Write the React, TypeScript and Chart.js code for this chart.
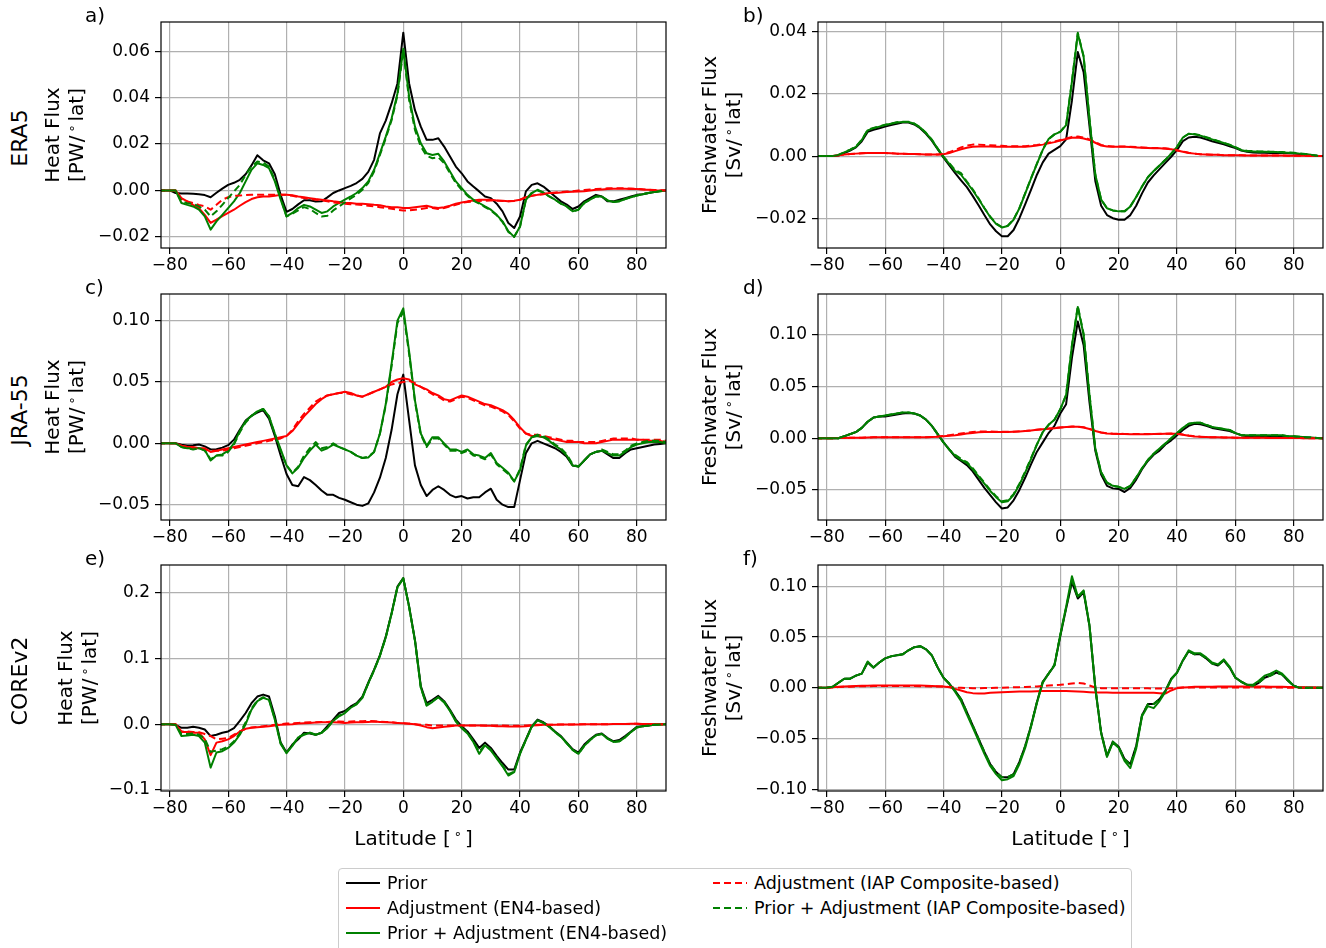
import React, { useEffect, useRef } from "react";
import { Chart, registerables } from "chart.js";
Chart.register(...registerables);

// ---------------- DATA ----------------
const latitude = [
  -84, -82, -80, -78, -76, -74, -72, -70, -68, -66,
  -64, -62, -60, -58, -56, -54, -52, -50, -48, -46,
  -44, -42, -40, -38, -36, -34, -32, -30, -28, -26,
  -24, -22, -20, -18, -16, -14, -12, -10, -8, -6,
  -4, -2, 0, 2, 4, 6, 8, 10, 12, 14,
  16, 18, 20, 22, 24, 26, 28, 30, 32, 34,
  36, 38, 40, 42, 44, 46, 48, 50, 52, 54,
  56, 58, 60, 62, 64, 66, 68, 70, 72, 74,
  76, 78, 80, 82, 84, 86, 88, 90,
];
const latTicks = [-80, -60, -40, -20, 0, 20, 40, 60, 80];

// a) ERA5 heat flux
const eraHeatPrior = [
  0, 0, 0, -0.0011, -0.0013, -0.0013, -0.0014, -0.0016, -0.002, -0.0029,
  -0.001, 0.0008, 0.0024, 0.0033, 0.0046, 0.007, 0.0108, 0.0152, 0.013, 0.0117,
  0.007, -0.002, -0.0092, -0.008, -0.006, -0.0042, -0.0042, -0.0048, -0.0047, -0.003,
  -0.0011, 0, 0.001, 0.002, 0.0032, 0.005, 0.008, 0.0132, 0.0246, 0.0301,
  0.0375, 0.0461, 0.068, 0.0461, 0.0346, 0.0275, 0.0218, 0.0218, 0.0225, 0.0189,
  0.0146, 0.0103, 0.0074, 0.0039, 0.0017, -0.0004, -0.0026, -0.0033, -0.0057, -0.009,
  -0.014, -0.0162, -0.0112, -0.0004, 0.0024, 0.0031, 0.0017, -0.0004, -0.0026, -0.0047,
  -0.0061, -0.008, -0.0069, -0.0047, -0.0033, -0.0019, -0.0026, -0.0047, -0.0047, -0.004,
  -0.0033, -0.0026, -0.0019, -0.0016, -0.0011, -0.0007, -0.0001, 0,
];
const eraHeatAdjEN4 = [
  0, 0, 0, 0, -0.0033, -0.0047, -0.0062, -0.0076, -0.0105, -0.014,
  -0.0126, -0.0111, -0.0097, -0.0083, -0.0066, -0.005, -0.0037, -0.0029, -0.0026, -0.0026,
  -0.0023, -0.0019, -0.0019, -0.0021, -0.0026, -0.0029, -0.0033, -0.0037, -0.004, -0.0043,
  -0.0047, -0.005, -0.0054, -0.0054, -0.0057, -0.0057, -0.0059, -0.0062, -0.0064, -0.0069,
  -0.0072, -0.0072, -0.0076, -0.0076, -0.0072, -0.0069, -0.0066, -0.0072, -0.0076, -0.0072,
  -0.0066, -0.0057, -0.0052, -0.0047, -0.0043, -0.004, -0.004, -0.004, -0.0043, -0.0044,
  -0.0047, -0.0044, -0.004, -0.0029, -0.0023, -0.0019, -0.0016, -0.0011, -0.0011, -0.0009,
  -0.0007, -0.0006, -0.0004, -0.0003, 0, 0.0003, 0.0004, 0.0006, 0.0007, 0.0007,
  0.0007, 0.0006, 0.0006, 0.0004, 0.0003, 0.0001, 0, 0,
];
const eraHeatSumEN4 = [
  0, 0, 0, 0, -0.0054, -0.0062, -0.0069, -0.0083, -0.0112, -0.0169,
  -0.0133, -0.0105, -0.0076, -0.0047, -0.0011, 0.0039, 0.0089, 0.0117, 0.011, 0.0096,
  0.0039, -0.004, -0.0112, -0.0097, -0.0076, -0.0062, -0.0069, -0.0083, -0.0097, -0.009,
  -0.0069, -0.0054, -0.004, -0.0026, -0.0011, 0.001, 0.0039, 0.0089, 0.016, 0.0232,
  0.031, 0.0418, 0.0611, 0.0404, 0.0275, 0.0203, 0.016, 0.0153, 0.0158, 0.0125,
  0.0082, 0.0039, 0.001, -0.0019, -0.004, -0.0054, -0.0069, -0.0083, -0.0105, -0.0133,
  -0.0176, -0.02, -0.0155, -0.004, -0.0011, 0.0003, -0.0009, -0.0026, -0.004, -0.0057,
  -0.0069, -0.009, -0.0083, -0.0054, -0.004, -0.0026, -0.0026, -0.0043, -0.005, -0.0047,
  -0.0037, -0.0029, -0.0022, -0.0016, -0.0011, -0.0007, -0.0003, 0,
];
const eraHeatAdjIAP = [
  0, 0, 0, 0, -0.0037, -0.0047, -0.0054, -0.0062, -0.0069, -0.0083,
  -0.0062, -0.004, -0.0029, -0.0023, -0.0022, -0.002, -0.0019, -0.0019, -0.0019, -0.0019,
  -0.0019, -0.0019, -0.0019, -0.0023, -0.0029, -0.0033, -0.0037, -0.004, -0.0043, -0.0047,
  -0.0052, -0.0054, -0.0057, -0.0059, -0.0061, -0.0063, -0.0066, -0.0069, -0.0072, -0.0076,
  -0.0079, -0.0083, -0.0086, -0.0086, -0.0083, -0.008, -0.0076, -0.0076, -0.008, -0.0076,
  -0.0069, -0.0062, -0.0054, -0.005, -0.0047, -0.0045, -0.0044, -0.0043, -0.0043, -0.0045,
  -0.0047, -0.0045, -0.004, -0.003, -0.0023, -0.0019, -0.0015, -0.0011, -0.0009, -0.0007,
  -0.0005, -0.0003, 0, 0.0002, 0.0004, 0.0006, 0.0007, 0.0009, 0.0009, 0.0009,
  0.0009, 0.0008, 0.0007, 0.0005, 0.0003, 0.0002, 0.0001, 0,
];
const eraHeatSumIAP = [
  0, 0, 0, 0, -0.0047, -0.0055, -0.0057, -0.0069, -0.0083, -0.0112,
  -0.009, -0.0062, -0.0033, -0.0004, 0.0024, 0.0067, 0.0103, 0.0125, 0.012, 0.0103,
  0.0046, -0.0033, -0.0112, -0.01, -0.0086, -0.0072, -0.008, -0.0097, -0.0112, -0.0109,
  -0.0086, -0.0069, -0.0052, -0.0034, -0.0019, 0.0003, 0.0032, 0.0082, 0.0153, 0.0225,
  0.0303, 0.041, 0.0604, 0.039, 0.0261, 0.0189, 0.0149, 0.0139, 0.0143, 0.0117,
  0.0074, 0.0032, 0.0003, -0.0023, -0.0044, -0.0057, -0.0072, -0.0086, -0.0107, -0.0136,
  -0.0179, -0.02, -0.0155, -0.004, -0.0011, 0, -0.0009, -0.0026, -0.004, -0.0057,
  -0.0069, -0.009, -0.0083, -0.0054, -0.004, -0.0026, -0.0026, -0.0043, -0.005, -0.0047,
  -0.0037, -0.0029, -0.0022, -0.0016, -0.0011, -0.0007, -0.0003, 0,
];

// b) ERA5 freshwater flux
const eraFreshPrior = [
  0, 0, 0, 0, 0.0002, 0.001, 0.0018, 0.0028, 0.0048, 0.0078,
  0.0085, 0.009, 0.0095, 0.01, 0.0104, 0.0108, 0.0108, 0.0102, 0.009, 0.0072,
  0.005, 0.0022, -0.0005, -0.003, -0.0055, -0.0078, -0.01, -0.0128, -0.0158, -0.019,
  -0.022, -0.0242, -0.0258, -0.0258, -0.0238, -0.02, -0.0155, -0.0108, -0.006, -0.002,
  0.0008, 0.002, 0.0032, 0.0054, 0.018, 0.0335, 0.027, 0.0097, -0.008, -0.016,
  -0.019, -0.02, -0.0205, -0.0205, -0.019, -0.016, -0.012, -0.0085, -0.0062, -0.0042,
  -0.0022, -0.0002, 0.002, 0.0048, 0.006, 0.0062, 0.006, 0.0054, 0.0048, 0.0043,
  0.0038, 0.0032, 0.0026, 0.0018, 0.0014, 0.0012, 0.0011, 0.0011, 0.001, 0.001,
  0.001, 0.0009, 0.0008, 0.0007, 0.0005, 0.0003, 0.0001, 0,
];
const eraFreshAdjEN4 = [
  0, 0, 0, 0, 0.0003, 0.0005, 0.0007, 0.0008, 0.0009, 0.001,
  0.001, 0.001, 0.001, 0.0009, 0.0008, 0.0008, 0.0007, 0.0007, 0.0006, 0.0005,
  0.0005, 0.0005, 0.0006, 0.001, 0.0016, 0.0022, 0.0027, 0.003, 0.0031, 0.0031,
  0.0031, 0.003, 0.003, 0.003, 0.003, 0.003, 0.003, 0.0032, 0.0034, 0.0037,
  0.0041, 0.0045, 0.005, 0.0055, 0.0059, 0.006, 0.0057, 0.0052, 0.0043, 0.0034,
  0.0031, 0.003, 0.003, 0.003, 0.0029, 0.0028, 0.0027, 0.0026, 0.0025, 0.0025,
  0.0024, 0.0022, 0.0018, 0.0014, 0.001, 0.0008, 0.0006, 0.0005, 0.0004, 0.0004,
  0.0003, 0.0003, 0.0003, 0.0003, 0.0002, 0.0002, 0.0002, 0.0002, 0.0002, 0.0002,
  0.0002, 0.0001, 0.0001, 0.0001, 0.0001, 0, 0, 0,
];
const eraFreshSumEN4 = [
  0, 0, 0, 0, 0.0004, 0.0012, 0.002, 0.003, 0.0052, 0.0083,
  0.009, 0.0095, 0.01, 0.0104, 0.0108, 0.011, 0.011, 0.0104, 0.0092, 0.0074,
  0.0052, 0.0024, -0.0003, -0.0025, -0.0048, -0.006, -0.0085, -0.011, -0.0138, -0.0168,
  -0.0196, -0.0218, -0.023, -0.0225, -0.0205, -0.0168, -0.012, -0.0072, -0.0025, 0.002,
  0.0055, 0.007, 0.0078, 0.01, 0.024, 0.0395, 0.032, 0.012, -0.006, -0.014,
  -0.0168, -0.0175, -0.0178, -0.0178, -0.0162, -0.0132, -0.0098, -0.0068, -0.0048, -0.003,
  -0.0012, 0.0008, 0.003, 0.006, 0.0072, 0.007, 0.0066, 0.006, 0.0054, 0.0048,
  0.0042, 0.0036, 0.0028, 0.0019, 0.0016, 0.0015, 0.0014, 0.0014, 0.0013, 0.0013,
  0.0012, 0.0011, 0.001, 0.0008, 0.0006, 0.0004, 0.0001, 0,
];
const eraFreshAdjIAP = [
  0, 0, 0, 0, 0.0003, 0.0005, 0.0007, 0.0008, 0.0009, 0.001,
  0.001, 0.001, 0.001, 0.0009, 0.0008, 0.0008, 0.0007, 0.0007, 0.0006, 0.0005,
  0.0005, 0.0005, 0.0007, 0.0013, 0.002, 0.0028, 0.0034, 0.0037, 0.0037, 0.0036,
  0.0035, 0.0034, 0.0033, 0.0032, 0.0032, 0.0032, 0.0032, 0.0034, 0.0036, 0.0039,
  0.0043, 0.0047, 0.0052, 0.0057, 0.0062, 0.0063, 0.006, 0.0054, 0.0045, 0.0036,
  0.0033, 0.0031, 0.0031, 0.0031, 0.003, 0.0029, 0.0028, 0.0027, 0.0026, 0.0026,
  0.0025, 0.0023, 0.0019, 0.0015, 0.0011, 0.0008, 0.0006, 0.0005, 0.0004, 0.0004,
  0.0003, 0.0003, 0.0003, 0.0003, 0.0002, 0.0002, 0.0002, 0.0002, 0.0002, 0.0002,
  0.0002, 0.0001, 0.0001, 0.0001, 0.0001, 0, 0, 0,
];
const eraFreshSumIAP = [
  0, 0, 0, 0, 0.0004, 0.0012, 0.0021, 0.0031, 0.0053, 0.0084,
  0.0091, 0.0096, 0.0101, 0.0105, 0.0109, 0.0111, 0.0111, 0.0105, 0.0093, 0.0075,
  0.0053, 0.0024, -0.0002, -0.0023, -0.0045, -0.0055, -0.0082, -0.0107, -0.0136, -0.0167,
  -0.0195, -0.0217, -0.0229, -0.0224, -0.0204, -0.0167, -0.0119, -0.0071, -0.0024, 0.0021,
  0.0055, 0.007, 0.0079, 0.01, 0.0242, 0.0397, 0.0322, 0.0121, -0.006, -0.014,
  -0.0168, -0.0175, -0.0178, -0.0178, -0.0162, -0.0132, -0.0098, -0.0068, -0.0048, -0.003,
  -0.0012, 0.0008, 0.003, 0.006, 0.0072, 0.0071, 0.0067, 0.0061, 0.0055, 0.0049,
  0.0043, 0.0037, 0.0029, 0.002, 0.0017, 0.0016, 0.0015, 0.0015, 0.0014, 0.0014,
  0.0013, 0.0012, 0.0011, 0.0009, 0.0007, 0.0004, 0.0001, 0,
];

// c) JRA-55 heat flux
const jraHeatPrior = [
  0, 0, 0, 0, -0.0012, -0.0018, -0.0015, -0.001, -0.0025, -0.005,
  -0.0048, -0.0035, -0.0015, 0.003, 0.011, 0.0185, 0.0225, 0.025, 0.027, 0.02,
  0.006, -0.01, -0.025, -0.034, -0.035, -0.0275, -0.03, -0.034, -0.0385, -0.042,
  -0.042, -0.0445, -0.046, -0.048, -0.05, -0.051, -0.049, -0.04, -0.028, -0.012,
  0.011, 0.04, 0.056, 0.019, -0.018, -0.034, -0.043, -0.038, -0.035, -0.038,
  -0.042, -0.044, -0.043, -0.045, -0.044, -0.044, -0.04, -0.037, -0.046, -0.05,
  -0.052, -0.052, -0.03, -0.008, 0, 0.002, 0, -0.002, -0.004, -0.007,
  -0.011, -0.018, -0.019, -0.014, -0.009, -0.007, -0.006, -0.009, -0.012, -0.012,
  -0.008, -0.005, -0.004, -0.003, -0.002, -0.001, -0.0005, 0,
];
const jraHeatAdjEN4 = [
  0, 0, 0, 0, -0.002, -0.003, -0.003, -0.004, -0.004, -0.007,
  -0.006, -0.005, -0.004, -0.003, -0.002, -0.001, 0, 0.001, 0.002, 0.003,
  0.004, 0.005, 0.006, 0.01, 0.016, 0.022, 0.027, 0.032, 0.036, 0.039,
  0.04, 0.041, 0.042, 0.041, 0.039, 0.038, 0.04, 0.042, 0.044, 0.046,
  0.05, 0.052, 0.053, 0.052, 0.048, 0.046, 0.044, 0.041, 0.039, 0.036,
  0.035, 0.037, 0.039, 0.038, 0.036, 0.034, 0.032, 0.031, 0.029, 0.027,
  0.024, 0.019, 0.013, 0.008, 0.006, 0.006, 0.005, 0.004, 0.003, 0.002,
  0.001, 0.001, 0.001, 0, 0, 0, 0.001, 0.002, 0.003, 0.003,
  0.003, 0.003, 0.003, 0.003, 0.002, 0.002, 0.002, 0.001,
];
const jraHeatSumEN4 = [
  0, 0, 0, 0, -0.003, -0.004, -0.004, -0.004, -0.0055, -0.014,
  -0.01, -0.009, -0.006, 0, 0.01, 0.018, 0.0225, 0.026, 0.028, 0.022,
  0.008, -0.005, -0.018, -0.0245, -0.02, -0.012, -0.006, -0.001, -0.006, -0.004,
  -0.001, -0.003, -0.005, -0.007, -0.01, -0.012, -0.0115, -0.007, 0.008, 0.032,
  0.065, 0.1, 0.11, 0.075, 0.035, 0.008, -0.002, 0.005, 0.005, 0,
  -0.005, -0.005, -0.007, -0.005, -0.009, -0.01, -0.012, -0.008, -0.016, -0.02,
  -0.024, -0.031, -0.022, -0.002, 0.005, 0.006, 0.005, 0.002, -0.002, -0.005,
  -0.01, -0.018, -0.019, -0.014, -0.009, -0.007, -0.006, -0.008, -0.01, -0.01,
  -0.007, -0.003, -0.001, 0, 0.001, 0.001, 0.001, 0,
];
const jraHeatAdjIAP = [
  0, 0, 0, 0, -0.002, -0.003, -0.004, -0.004, -0.005, -0.006,
  -0.006, -0.006, -0.005, -0.004, -0.003, -0.002, -0.001, 0, 0.001, 0.002,
  0.003, 0.004, 0.006, 0.011, 0.018, 0.024, 0.029, 0.034, 0.037, 0.039,
  0.04, 0.041, 0.041, 0.04, 0.039, 0.038, 0.04, 0.042, 0.044, 0.046,
  0.048, 0.049, 0.05, 0.051, 0.049, 0.046, 0.043, 0.04, 0.038, 0.035,
  0.034, 0.036, 0.038, 0.037, 0.035, 0.033, 0.031, 0.03, 0.028, 0.026,
  0.023, 0.018, 0.012, 0.008, 0.007, 0.007, 0.006, 0.005, 0.004, 0.003,
  0.002, 0.002, 0.001, 0.001, 0.001, 0.001, 0.002, 0.003, 0.004, 0.004,
  0.004, 0.004, 0.003, 0.003, 0.003, 0.003, 0.003, 0.002,
];
const jraHeatSumIAP = [
  0, 0, 0, 0, -0.003, -0.004, -0.005, -0.004, -0.006, -0.013,
  -0.01, -0.01, -0.007, -0.001, 0.009, 0.017, 0.022, 0.026, 0.028, 0.022,
  0.007, -0.006, -0.018, -0.024, -0.019, -0.01, -0.004, 0.001, -0.004, -0.003,
  0, -0.003, -0.005, -0.007, -0.01, -0.012, -0.011, -0.007, 0.008, 0.031,
  0.063, 0.098, 0.107, 0.073, 0.034, 0.007, -0.003, 0.004, 0.004, -0.001,
  -0.006, -0.006, -0.008, -0.006, -0.01, -0.011, -0.013, -0.009, -0.017, -0.021,
  -0.025, -0.031, -0.021, -0.001, 0.005, 0.007, 0.006, 0.003, -0.001, -0.004,
  -0.009, -0.017, -0.019, -0.014, -0.009, -0.007, -0.005, -0.007, -0.009, -0.009,
  -0.006, -0.002, 0, 0.001, 0.002, 0.002, 0.002, 0.001,
];

// d) JRA-55 freshwater flux
const jraFreshPrior = [
  0, 0, 0, 0, 0, 0.002, 0.004, 0.006, 0.01, 0.016,
  0.02, 0.021, 0.021, 0.022, 0.023, 0.024, 0.0245, 0.024, 0.022, 0.018,
  0.012, 0.004, -0.004, -0.011, -0.018, -0.022, -0.026, -0.032, -0.04, -0.048,
  -0.055, -0.062, -0.068, -0.067, -0.06, -0.05, -0.038, -0.025, -0.013, -0.004,
  0.005, 0.012, 0.024, 0.033, 0.078, 0.113, 0.09, 0.035, -0.012, -0.035,
  -0.046, -0.0485, -0.049, -0.052, -0.048, -0.04, -0.03, -0.022, -0.016, -0.012,
  -0.006, -0.002, 0.003, 0.008, 0.012, 0.014, 0.0135, 0.012, 0.01, 0.009,
  0.008, 0.007, 0.005, 0.003, 0.002, 0.002, 0.002, 0.002, 0.002, 0.002,
  0.002, 0.0015, 0.0015, 0.001, 0.001, 0.0005, 0.0002, 0,
];
const jraFreshAdjEN4 = [
  0, 0, 0, 0, 0.0002, 0.0003, 0.0004, 0.0005, 0.0006, 0.0008,
  0.0009, 0.001, 0.001, 0.001, 0.001, 0.001, 0.001, 0.001, 0.001, 0.001,
  0.0012, 0.0015, 0.002, 0.0025, 0.003, 0.0037, 0.0045, 0.0052, 0.0058, 0.006,
  0.006, 0.006, 0.006, 0.006, 0.0062, 0.0065, 0.007, 0.0075, 0.0082, 0.0088,
  0.0093, 0.0098, 0.0103, 0.0108, 0.0112, 0.0112, 0.0105, 0.009, 0.007, 0.0055,
  0.0047, 0.0043, 0.0042, 0.0041, 0.004, 0.004, 0.004, 0.004, 0.0041, 0.0042,
  0.0043, 0.0044, 0.0043, 0.0035, 0.0025, 0.0018, 0.0014, 0.0012, 0.001, 0.0009,
  0.0008, 0.0007, 0.0006, 0.0005, 0.0005, 0.0004, 0.0004, 0.0004, 0.0003, 0.0003,
  0.0003, 0.0003, 0.0002, 0.0002, 0.0001, 0.0001, 0, 0,
];
const jraFreshSumEN4 = [
  0, 0, 0, 0, 0, 0.002, 0.004, 0.006, 0.01, 0.016,
  0.02, 0.021, 0.022, 0.023, 0.024, 0.025, 0.025, 0.024, 0.022, 0.018,
  0.012, 0.004, -0.004, -0.011, -0.017, -0.021, -0.024, -0.03, -0.037, -0.044,
  -0.051, -0.057, -0.062, -0.061, -0.055, -0.045, -0.033, -0.02, -0.006, 0.006,
  0.013, 0.018, 0.028, 0.042, 0.09, 0.127, 0.1, 0.042, -0.01, -0.033,
  -0.043, -0.046, -0.047, -0.049, -0.046, -0.038, -0.029, -0.021, -0.015, -0.01,
  -0.005, 0, 0.005, 0.01, 0.014, 0.015, 0.015, 0.013, 0.011, 0.01,
  0.009, 0.008, 0.005, 0.003, 0.003, 0.003, 0.003, 0.003, 0.003, 0.003,
  0.003, 0.002, 0.002, 0.0015, 0.001, 0.0008, 0.0003, 0,
];
const jraFreshAdjIAP = [
  0, 0, 0, 0, 0.0002, 0.0003, 0.0004, 0.0005, 0.0006, 0.0008,
  0.0009, 0.001, 0.001, 0.001, 0.001, 0.001, 0.001, 0.001, 0.001, 0.001,
  0.0013, 0.0017, 0.0023, 0.003, 0.0037, 0.0045, 0.0053, 0.006, 0.0065, 0.0066,
  0.0065, 0.0064, 0.0063, 0.0063, 0.0064, 0.0067, 0.0071, 0.0076, 0.0083, 0.0089,
  0.0094, 0.0099, 0.0104, 0.0109, 0.0113, 0.0113, 0.0106, 0.0091, 0.0071, 0.0056,
  0.0048, 0.0044, 0.0043, 0.0042, 0.0041, 0.0041, 0.0041, 0.0041, 0.0042, 0.0043,
  0.0044, 0.0045, 0.0044, 0.0036, 0.0026, 0.0019, 0.0015, 0.0012, 0.001, 0.0009,
  0.0008, 0.0007, 0.0006, 0.0005, 0.0005, 0.0004, 0.0004, 0.0004, 0.0003, 0.0003,
  0.0003, 0.0003, 0.0002, 0.0002, 0.0001, 0.0001, 0, 0,
];
const jraFreshSumIAP = [
  0, 0, 0, 0, 0, 0.002, 0.004, 0.006, 0.01, 0.016,
  0.02, 0.021, 0.022, 0.023, 0.024, 0.025, 0.025, 0.024, 0.022, 0.018,
  0.012, 0.004, -0.004, -0.011, -0.016, -0.02, -0.023, -0.029, -0.036, -0.043,
  -0.05, -0.056, -0.061, -0.06, -0.054, -0.044, -0.032, -0.019, -0.006, 0.006,
  0.013, 0.018, 0.028, 0.042, 0.09, 0.128, 0.101, 0.043, -0.01, -0.033,
  -0.043, -0.046, -0.047, -0.049, -0.046, -0.038, -0.029, -0.021, -0.015, -0.01,
  -0.005, 0, 0.005, 0.01, 0.014, 0.015, 0.015, 0.013, 0.011, 0.01,
  0.009, 0.008, 0.005, 0.003, 0.003, 0.003, 0.003, 0.003, 0.003, 0.003,
  0.003, 0.002, 0.002, 0.0015, 0.001, 0.0008, 0.0003, 0,
];

// e) COREv2 heat flux
const coreHeatPrior = [
  0, 0, 0, -0.001, -0.0055, -0.0055, -0.004, -0.0055, -0.008, -0.018,
  -0.016, -0.013, -0.011, -0.006, 0.005, 0.017, 0.032, 0.042, 0.045, 0.042,
  0.012, -0.028, -0.043, -0.031, -0.023, -0.013, -0.014, -0.016, -0.013, -0.003,
  0.007, 0.017, 0.02, 0.027, 0.032, 0.042, 0.063, 0.083, 0.105, 0.133,
  0.169, 0.209, 0.222, 0.179, 0.128, 0.058, 0.032, 0.037, 0.043, 0.035,
  0.022, 0.007, -0.003, -0.011, -0.023, -0.036, -0.028, -0.036, -0.048, -0.059,
  -0.069, -0.069, -0.043, -0.023, -0.003, 0.007, 0.003, -0.003, -0.011, -0.018,
  -0.028, -0.038, -0.043, -0.031, -0.023, -0.016, -0.014, -0.021, -0.026, -0.024,
  -0.018, -0.011, -0.004, -0.003, -0.002, -0.001, -0.0005, 0,
];
const coreHeatAdjEN4 = [
  0, 0, 0, 0, -0.012, -0.012, -0.013, -0.013, -0.023, -0.047,
  -0.028, -0.026, -0.023, -0.018, -0.011, -0.007, -0.0055, -0.0045, -0.004, -0.003,
  -0.002, -0.001, -0.0005, 0, 0.001, 0.0015, 0.002, 0.0025, 0.003, 0.003,
  0.003, 0.0025, 0.002, 0.0025, 0.003, 0.003, 0.0035, 0.004, 0.0035, 0.003,
  0.0025, 0.002, 0.0015, 0.0005, 0, -0.002, -0.0045, -0.006, -0.005, -0.004,
  -0.003, -0.002, -0.002, -0.002, -0.002, -0.002, -0.0025, -0.0025, -0.003, -0.003,
  -0.0035, -0.0035, -0.0035, -0.003, -0.002, -0.0015, -0.001, -0.001, -0.0008, -0.0006,
  -0.0005, -0.0004, -0.0003, -0.0002, 0, 0, 0, 0, 0.0002, 0.0002,
  0.0004, 0.0005, 0.0005, 0.0004, 0.0003, 0.0002, 0.0001, 0,
];
const coreHeatSumEN4 = [
  0, 0, 0, -0.001, -0.018, -0.017, -0.016, -0.018, -0.028, -0.066,
  -0.043, -0.041, -0.036, -0.028, -0.016, 0, 0.022, 0.035, 0.04, 0.037,
  0.007, -0.03, -0.044, -0.033, -0.02, -0.016, -0.013, -0.016, -0.013, -0.006,
  0.005, 0.012, 0.017, 0.025, 0.03, 0.04, 0.062, 0.082, 0.104, 0.132,
  0.168, 0.208, 0.222, 0.178, 0.127, 0.056, 0.028, 0.034, 0.041, 0.033,
  0.02, 0.004, -0.006, -0.014, -0.027, -0.045, -0.032, -0.04, -0.052, -0.064,
  -0.078, -0.073, -0.045, -0.024, -0.004, 0.006, 0.002, -0.004, -0.012, -0.019,
  -0.029, -0.039, -0.045, -0.033, -0.024, -0.017, -0.015, -0.022, -0.027, -0.026,
  -0.02, -0.012, -0.005, -0.003, -0.002, -0.001, -0.0005, 0,
];
const coreHeatAdjIAP = [
  0, 0, 0, 0, -0.011, -0.011, -0.012, -0.012, -0.015, -0.018,
  -0.023, -0.022, -0.021, -0.016, -0.011, -0.007, -0.005, -0.004, -0.003, -0.002,
  -0.001, 0, 0.001, 0.0015, 0.002, 0.0025, 0.003, 0.003, 0.0035, 0.0035,
  0.004, 0.004, 0.0035, 0.004, 0.0045, 0.0045, 0.0048, 0.0045, 0.004, 0.0035,
  0.003, 0.002, 0.0015, 0.001, 0, -0.001, -0.001, -0.002, -0.002, -0.002,
  -0.002, -0.002, -0.002, -0.002, -0.002, -0.002, -0.002, -0.002, -0.002, -0.002,
  -0.0025, -0.0025, -0.0025, -0.002, -0.0015, -0.001, -0.001, -0.0008, -0.0006, -0.0005,
  -0.0004, -0.0003, -0.0002, -0.0001, 0, 0, 0, 0.0001, 0.0002, 0.0003,
  0.0004, 0.0005, 0.0005, 0.0004, 0.0003, 0.0002, 0.0001, 0,
];
const coreHeatSumIAP = [
  0, 0, 0, -0.001, -0.015, -0.015, -0.014, -0.016, -0.022, -0.042,
  -0.04, -0.038, -0.034, -0.026, -0.014, 0.003, 0.024, 0.036, 0.041, 0.038,
  0.008, -0.029, -0.043, -0.032, -0.02, -0.015, -0.013, -0.016, -0.013, -0.005,
  0.006, 0.013, 0.018, 0.026, 0.031, 0.041, 0.062, 0.082, 0.104, 0.132,
  0.168, 0.208, 0.221, 0.178, 0.127, 0.056, 0.029, 0.035, 0.041, 0.034,
  0.021, 0.005, -0.005, -0.013, -0.026, -0.042, -0.031, -0.039, -0.051, -0.063,
  -0.076, -0.072, -0.044, -0.024, -0.004, 0.006, 0.002, -0.004, -0.012, -0.019,
  -0.029, -0.039, -0.045, -0.033, -0.024, -0.017, -0.015, -0.022, -0.027, -0.026,
  -0.02, -0.012, -0.005, -0.003, -0.002, -0.001, -0.0005, 0,
];

// f) COREv2 freshwater flux
const coreFreshPrior = [
  0, 0, 0, 0.001, 0.005, 0.009, 0.009, 0.012, 0.014, 0.025,
  0.02, 0.025, 0.029, 0.031, 0.032, 0.033, 0.037, 0.04, 0.041, 0.038,
  0.032, 0.02, 0.01, 0.004, -0.003, -0.011, -0.024, -0.037, -0.05, -0.063,
  -0.075, -0.083, -0.088, -0.088, -0.085, -0.073, -0.057, -0.037, -0.014, 0.006,
  0.014, 0.022, 0.051, 0.078, 0.104, 0.088, 0.094, 0.061, 0, -0.044,
  -0.067, -0.053, -0.058, -0.07, -0.075, -0.057, -0.027, -0.016, -0.016, -0.011,
  -0.003, 0.009, 0.015, 0.027, 0.036, 0.033, 0.033, 0.029, 0.024, 0.022,
  0.027, 0.02, 0.01, 0.006, 0.003, 0.002, 0.005, 0.01, 0.012, 0.015,
  0.013, 0.007, 0.002, 0, 0, 0, 0, 0,
];
const coreFreshAdjEN4 = [
  0, 0, 0, 0.0005, 0.001, 0.0013, 0.0015, 0.0018, 0.002, 0.002,
  0.0022, 0.0023, 0.0023, 0.0023, 0.0023, 0.0023, 0.0023, 0.0022, 0.0022, 0.002,
  0.0018, 0.0015, 0.0013, 0.0006, -0.001, -0.0026, -0.0043, -0.0052, -0.0056, -0.0056,
  -0.0049, -0.0046, -0.0043, -0.0041, -0.0039, -0.0037, -0.0036, -0.0035, -0.0033, -0.0031,
  -0.003, -0.003, -0.003, -0.003, -0.0033, -0.0036, -0.0039, -0.0043, -0.0046, -0.0046,
  -0.0046, -0.0048, -0.0049, -0.0049, -0.0049, -0.0049, -0.0049, -0.0049, -0.0049, -0.0052,
  -0.0056, -0.0026, -0.0003, 0.0003, 0.0007, 0.001, 0.001, 0.001, 0.0012, 0.0013,
  0.0013, 0.0013, 0.0013, 0.0013, 0.0013, 0.0013, 0.0013, 0.0013, 0.0012, 0.0011,
  0.001, 0.0009, 0.0009, 0.0007, 0.0005, 0.0004, 0.0003, 0.0002,
];
const coreFreshSumEN4 = [
  0, 0, 0, 0.001, 0.005, 0.009, 0.009, 0.012, 0.014, 0.026,
  0.02, 0.025, 0.029, 0.031, 0.032, 0.033, 0.037, 0.04, 0.041, 0.038,
  0.032, 0.02, 0.01, 0.004, -0.004, -0.013, -0.026, -0.039, -0.052, -0.065,
  -0.077, -0.085, -0.091, -0.09, -0.087, -0.075, -0.059, -0.038, -0.015, 0.005,
  0.014, 0.022, 0.052, 0.08, 0.11, 0.09, 0.096, 0.062, 0, -0.045,
  -0.068, -0.054, -0.059, -0.072, -0.079, -0.06, -0.028, -0.018, -0.02, -0.013,
  -0.004, 0.008, 0.015, 0.027, 0.037, 0.034, 0.034, 0.03, 0.025, 0.023,
  0.028, 0.021, 0.01, 0.006, 0.003, 0.003, 0.007, 0.012, 0.014, 0.017,
  0.014, 0.008, 0.002, 0, 0, 0, 0, 0,
];
const coreFreshAdjIAP = [
  0, 0, 0, 0.0003, 0.0008, 0.001, 0.0012, 0.0014, 0.0015, 0.0016,
  0.0017, 0.0018, 0.0018, 0.0018, 0.0018, 0.0018, 0.0018, 0.0017, 0.0016, 0.0015,
  0.0014, 0.0013, 0.0013, 0.0008, 0.0003, 0, -0.0002, -0.0003, -0.0003, -0.0002,
  -0.0001, 0, 0.0002, 0.0003, 0.0005, 0.0007, 0.0009, 0.0011, 0.0014, 0.0018,
  0.0022, 0.0026, 0.003, 0.0036, 0.0043, 0.0049, 0.0043, 0.0023, 0.0003, -0.0003,
  -0.0005, -0.0005, -0.0005, -0.0005, -0.0005, -0.0005, -0.0005, -0.0005, -0.0006, -0.0006,
  -0.0007, -0.0004, 0, 0.0003, 0.0003, 0.0003, 0.0003, 0.0003, 0.0003, 0.0003,
  0.0003, 0.0003, 0.0003, 0.0003, 0.0003, 0.0003, 0.0003, 0.0003, 0.0003, 0.0003,
  0.0003, 0.0002, 0.0002, 0.0001, 0.0001, 0, 0, 0,
];
const coreFreshSumIAP = [
  0, 0, 0, 0.001, 0.005, 0.009, 0.009, 0.012, 0.014, 0.025,
  0.02, 0.025, 0.029, 0.031, 0.032, 0.033, 0.037, 0.04, 0.041, 0.038,
  0.032, 0.02, 0.01, 0.004, -0.003, -0.011, -0.024, -0.037, -0.05, -0.063,
  -0.075, -0.083, -0.088, -0.088, -0.085, -0.073, -0.057, -0.037, -0.014, 0.006,
  0.014, 0.023, 0.052, 0.079, 0.106, 0.089, 0.095, 0.061, 0, -0.044,
  -0.067, -0.053, -0.058, -0.07, -0.076, -0.058, -0.027, -0.016, -0.016, -0.011,
  -0.003, 0.009, 0.015, 0.027, 0.036, 0.033, 0.033, 0.029, 0.024, 0.022,
  0.027, 0.02, 0.01, 0.006, 0.003, 0.002, 0.005, 0.01, 0.012, 0.015,
  0.013, 0.007, 0.002, 0, 0, 0, 0, 0,
];

// y tick values
const yTicksA = [-0.02, 0, 0.02, 0.04, 0.06];
const yTicksB = [-0.02, 0, 0.02, 0.04];
const yTicksC = [-0.05, 0, 0.05, 0.1];
const yTicksD = [-0.05, 0, 0.05, 0.1];
const yTicksE = [-0.1, 0, 0.1, 0.2];
const yTicksF = [-0.1, -0.05, 0, 0.05, 0.1];

const seriesNames = [
  "Prior",
  "Adjustment (EN4-based)",
  "Prior + Adjustment (EN4-based)",
  "Adjustment (IAP Composite-based)",
  "Prior + Adjustment (IAP Composite-based)",
];

// ---------------- STYLE / LAYOUT ----------------
const FONT = "'DejaVu Sans', 'Liberation Sans', sans-serif";
const seriesColors = ["#000000", "#ff0000", "#008000", "#ff0000", "#008000"];
const seriesDash = [[], [], [], [7, 4], [7, 4]];

const colLeft = [161, 818];
const colWidth = [505, 505];
const rowTop = [22, 294, 565];
const rowHeight = 226;
const xMin = -83;
const xMax = 90;

type PanelDef = {
  id: string;
  col: number;
  row: number;
  series: number[][];
  yMin: number;
  yMax: number;
  yTicks: number[];
  dec: number;
  ylabel: string;
  unit: string;
  ylabelX: number;
};

const panels: PanelDef[] = [
  { id: "a", col: 0, row: 0, series: [eraHeatPrior, eraHeatAdjEN4, eraHeatSumEN4, eraHeatAdjIAP, eraHeatSumIAP], yMin: -0.0248, yMax: 0.0726, yTicks: yTicksA, dec: 2, ylabel: "Heat Flux", unit: "PW", ylabelX: 65 },
  { id: "b", col: 1, row: 0, series: [eraFreshPrior, eraFreshAdjEN4, eraFreshSumEN4, eraFreshAdjIAP, eraFreshSumIAP], yMin: -0.0296, yMax: 0.0432, yTicks: yTicksB, dec: 2, ylabel: "Freshwater Flux", unit: "Sv", ylabelX: 722 },
  { id: "c", col: 0, row: 1, series: [jraHeatPrior, jraHeatAdjEN4, jraHeatSumEN4, jraHeatAdjIAP, jraHeatSumIAP], yMin: -0.0625, yMax: 0.1217, yTicks: yTicksC, dec: 2, ylabel: "Heat Flux", unit: "PW", ylabelX: 65 },
  { id: "d", col: 1, row: 1, series: [jraFreshPrior, jraFreshAdjEN4, jraFreshSumEN4, jraFreshAdjIAP, jraFreshSumIAP], yMin: -0.0791, yMax: 0.1396, yTicks: yTicksD, dec: 2, ylabel: "Freshwater Flux", unit: "Sv", ylabelX: 722 },
  { id: "e", col: 0, row: 2, series: [coreHeatPrior, coreHeatAdjEN4, coreHeatSumEN4, coreHeatAdjIAP, coreHeatSumIAP], yMin: -0.1015, yMax: 0.2419, yTicks: yTicksE, dec: 1, ylabel: "Heat Flux", unit: "PW", ylabelX: 78 },
  { id: "f", col: 1, row: 2, series: [coreFreshPrior, coreFreshAdjEN4, coreFreshSumEN4, coreFreshAdjIAP, coreFreshSumIAP], yMin: -0.1016, yMax: 0.121, yTicks: yTicksF, dec: 2, ylabel: "Freshwater Flux", unit: "Sv", ylabelX: 722 },
];

const rowLabels = ["ERA5", "JRA-55", "COREv2"];

function fmtTick(v: number, dec: number) {
  const s = Math.abs(v).toFixed(dec);
  return (v < -1e-12 ? "\u2212" : "") + s;
}

const framePlugin = {
  id: "frame",
  afterDraw(chart: any) {
    const { ctx, chartArea: a } = chart;
    ctx.save();
    ctx.strokeStyle = "#000";
    ctx.lineWidth = 1.2;
    ctx.strokeRect(a.left, a.top, a.right - a.left, a.bottom - a.top);
    ctx.restore();
  },
};

const PL = 100, PT = 20, PR = 12, PB = 40;

function PanelChart({ panel }: { panel: PanelDef }) {
  const ref = useRef<HTMLCanvasElement>(null);
  const W = colWidth[panel.col];
  const H = rowHeight;
  useEffect(() => {
    if (!ref.current) return;
    const tickFont = { family: FONT, size: 17 };
    const datasets = panel.series.map((vals, i) => ({
      label: seriesNames[i],
      data: latitude.map((x, j) => ({ x, y: vals[j] })),
      borderColor: seriesColors[i],
      backgroundColor: seriesColors[i],
      borderWidth: 2,
      borderDash: seriesDash[i],
      pointRadius: 0,
      tension: 0,
      fill: false,
      borderJoinStyle: "round" as const,
      order: 5 - i,
    }));
    const chart = new Chart(ref.current, {
      type: "line",
      data: { datasets },
      options: {
        animation: false,
        responsive: false,
        maintainAspectRatio: false,
        devicePixelRatio: 1,
        layout: { padding: { left: 0, top: PT, right: PR, bottom: 0 } },
        plugins: { legend: { display: false }, tooltip: { enabled: false } },
        scales: {
          x: {
            type: "linear",
            min: xMin,
            max: xMax,
            afterBuildTicks: (s: any) => {
              s.ticks = latTicks.map((v) => ({ value: v }));
            },
            afterFit: (s: any) => {
              s.height = PB;
            },
            ticks: {
              autoSkip: false,
              maxRotation: 0,
              minRotation: 0,
              font: tickFont,
              color: "#000",
              padding: 1,
              callback: (v: any) => fmtTick(Number(v), 0),
            },
            grid: { color: "#b0b0b0", lineWidth: 1.2, drawTicks: true, tickLength: 6, tickColor: "#000", tickWidth: 1.2 },
            border: { display: false },
          },
          y: {
            type: "linear",
            min: panel.yMin,
            max: panel.yMax,
            afterBuildTicks: (s: any) => {
              s.ticks = panel.yTicks.map((v) => ({ value: v }));
            },
            afterFit: (s: any) => {
              s.width = PL;
            },
            ticks: {
              autoSkip: false,
              font: tickFont,
              color: "#000",
              padding: 5,
              callback: (v: any) => fmtTick(Number(v), panel.dec),
            },
            grid: { color: "#b0b0b0", lineWidth: 1.2, drawTicks: true, tickLength: 6, tickColor: "#000", tickWidth: 1.2 },
            border: { display: false },
          },
        },
      } as any,
      plugins: [framePlugin],
    });
    return () => chart.destroy();
  }, [panel]);
  return (
    <canvas
      ref={ref}
      width={W + PL + PR}
      height={H + PT + PB}
      style={{
        position: "absolute",
        left: colLeft[panel.col] - PL,
        top: rowTop[panel.row] - PT,
        width: W + PL + PR,
        height: H + PT + PB,
      }}
    />
  );
}

function Deg() {
  return (
    <span style={{ fontSize: 13, position: "relative", top: -7, margin: "0 3px" }}>∘</span>
  );
}

function Rotated({ cx, cy, size, lineHeight, children }: any) {
  return (
    <div
      style={{
        position: "absolute",
        left: cx,
        top: cy,
        transform: "translate(-50%, -50%) rotate(-90deg)",
        whiteSpace: "nowrap",
        textAlign: "center",
        fontSize: size,
        lineHeight: lineHeight + "px",
      }}
    >
      {children}
    </div>
  );
}

function Swatch({ color, dashed }: { color: string; dashed: boolean }) {
  return (
    <svg width={34} height={6} style={{ position: "absolute", left: 0, top: -3 }}>
      <line x1={0} y1={3} x2={34} y2={3} stroke={color} strokeWidth={2.2} strokeDasharray={dashed ? "7 4" : undefined} />
    </svg>
  );
}

export default function App() {
  const legendItems = [
    { i: 0, x: 7, y: 14 },
    { i: 1, x: 7, y: 39 },
    { i: 2, x: 7, y: 64 },
    { i: 3, x: 374, y: 14 },
    { i: 4, x: 374, y: 39 },
  ];
  return (
    <div
      style={{
        position: "absolute",
        left: 0,
        top: 0,
        width: 1326,
        height: 948,
        overflow: "hidden",
        background: "#fff",
        fontFamily: FONT,
        color: "#000",
      }}
    >
      {panels.map((p) => (
        <PanelChart key={p.id} panel={p} />
      ))}
      {panels.map((p) => (
        <div
          key={"lbl" + p.id}
          style={{
            position: "absolute",
            left: p.col === 0 ? 85 : 743,
            top: rowTop[p.row] - 17,
            fontSize: 20,
            lineHeight: "20px",
          }}
        >
          {p.id})
        </div>
      ))}
      {panels.map((p) => (
        <Rotated key={"yl" + p.id} cx={p.ylabelX} cy={rowTop[p.row] + rowHeight / 2} size={20} lineHeight={24}>
          <div>{p.ylabel}</div>
          <div>
            [{p.unit}/<Deg />lat]
          </div>
        </Rotated>
      ))}
      {rowLabels.map((t, r) => (
        <Rotated key={"row" + t} cx={20} cy={rowTop[r] + rowHeight / 2 + 3} size={22} lineHeight={26}>
          {t}
        </Rotated>
      ))}
      {[0, 1].map((c) => (
        <div
          key={"xl" + c}
          style={{
            position: "absolute",
            left: colLeft[c] + colWidth[c] / 2,
            top: 838,
            transform: "translate(-50%, -50%)",
            fontSize: 20,
            whiteSpace: "nowrap",
          }}
        >
          Latitude [<Deg />]
        </div>
      ))}
      <div
        style={{
          position: "absolute",
          left: 338,
          top: 868,
          width: 794,
          height: 90,
          border: "1px solid #cccccc",
          borderRadius: 4,
          background: "#fff",
          boxSizing: "border-box",
        }}
      >
        {legendItems.map((it) => (
          <div key={"lg" + it.i} style={{ position: "absolute", left: it.x, top: it.y }}>
            <Swatch color={seriesColors[it.i]} dashed={seriesDash[it.i].length > 0} />
            <div
              style={{
                position: "absolute",
                left: 41,
                top: -10,
                fontSize: 17.5,
                lineHeight: "20px",
                whiteSpace: "nowrap",
              }}
            >
              {seriesNames[it.i]}
            </div>
          </div>
        ))}
      </div>
    </div>
  );
}
